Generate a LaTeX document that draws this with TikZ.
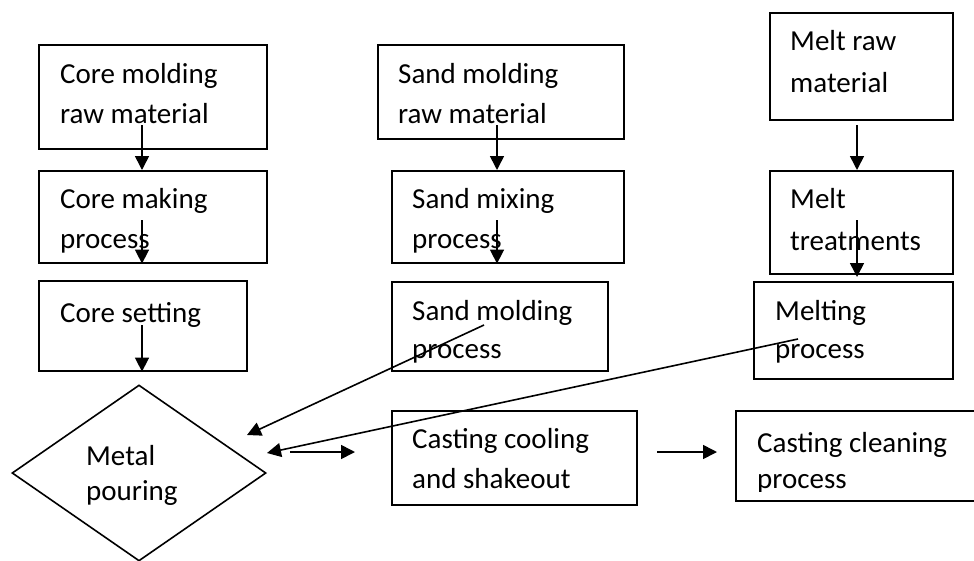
\documentclass[tikz,border=0pt]{standalone}
\usepackage{fontspec}
\setmainfont{Carlito}
\usetikzlibrary{arrows.meta,shapes.geometric}
\begin{document}
\begin{tikzpicture}[x=1pt,y=-1pt,
  box/.style={draw,line width=1.6pt,rectangle,inner sep=0pt,anchor=north west},
  lbl/.style={font=\fontsize{29}{40}\selectfont,align=left,anchor=base west,inner sep=0pt},
  arr/.style={-{Triangle[length=14pt,width=14pt]},line width=1.6pt}]
\useasboundingbox[fill=white] (0,0) rectangle (974,560);

% boxes
\node[box,minimum width=228pt,minimum height=104pt] (b1) at (38,44) {};
\node[box,minimum width=228pt,minimum height=92pt] (b2) at (38,170) {};
\node[box,minimum width=208pt,minimum height=90pt] (b3) at (38,280) {};
\node[box,minimum width=246pt,minimum height=94pt] (s1) at (377,44) {};
\node[box,minimum width=232pt,minimum height=92pt] (s2) at (391,170) {};
\node[box,minimum width=216pt,minimum height=89pt] (s3) at (391,281) {};
\node[box,minimum width=183pt,minimum height=107pt] (m1) at (769,12) {};
\node[box,minimum width=183pt,minimum height=103pt] (m2) at (769,170) {};
\node[box,minimum width=199pt,minimum height=97pt] (m3) at (753,281) {};
\node[box,minimum width=245pt,minimum height=94pt] (cc) at (391,410) {};
\node[box,minimum width=260pt,minimum height=90pt] (cl) at (735,410) {};
\node[draw,line width=1.6pt,shape=diamond,inner sep=0pt,minimum width=254pt,minimum height=176pt] (dp) at (139,473) {};

% labels (coordinate = baseline of last line)
\node[lbl] (tb1) at (60,123) {Core molding\\raw material};
\node[lbl] (tb2) at (60,248) {Core making\\process};
\node[lbl] (tb3) at (60,322) {Core setting};
\node[lbl] (ts1) at (398,123) {Sand molding\\raw material};
\node[lbl] (ts2) at (412,248) {Sand mixing\\process};
\node[lbl] (ts3) at (412,358) {Sand molding\\[-2pt]process};
\node[lbl] (tm1) at (790,92) {Melt raw\\[2pt]material};
\node[lbl] (tm2) at (790,250) {Melt\\[2pt]treatments};
\node[lbl] (tm3) at (775,358) {Melting\\[-2pt]process};
\node[lbl] (tcc) at (412,488) {Casting cooling\\and shakeout};
\begin{scope}
  \clip (735,400) rectangle (974,491);
  \node[lbl] (tcl) at (757,488) {Casting cleaning\\[-4pt]process};
\end{scope}
\node[lbl] (tdp) at (86,500) {Metal\\[-5pt]pouring};

% arrow start points
\coordinate (a1) at (142,125);
\coordinate (a2) at (142,220);
\coordinate (a3) at (142,325);
\coordinate (c1) at (497,125);
\coordinate (c2) at (497,220);
\coordinate (e1) at (857,125);
\coordinate (e2) at (857,220);
\coordinate (e2end) at (857,277);
\coordinate (d1) at (484,325);
\coordinate (d1end) at (247,435);
\coordinate (d2) at (798,339);
\coordinate (d2end) at (267,453);
\coordinate (h1) at (290,452);
\coordinate (h1end) at (355,452);
\coordinate (h2) at (657,452);
\coordinate (h2end) at (717,452);

% connectors
\draw[arr] (a1) -- (a1 |- b2.north);
\draw[arr] (a2) -- (a2 |- b2.south);
\draw[arr] (a3) -- (a3 |- b3.south);
\draw[arr] (c1) -- (c1 |- s2.north);
\draw[arr] (c2) -- (c2 |- s2.south);
\draw[arr] (e1) -- (e1 |- m2.north);
\draw[arr] (e2) -- (e2end);
\draw[arr] (d1) -- (d1end);
\draw[arr] (d2) -- (d2end);
\draw[arr] (h1) -- (h1end);
\draw[arr] (h2) -- (h2end);
\end{tikzpicture}
\end{document}
